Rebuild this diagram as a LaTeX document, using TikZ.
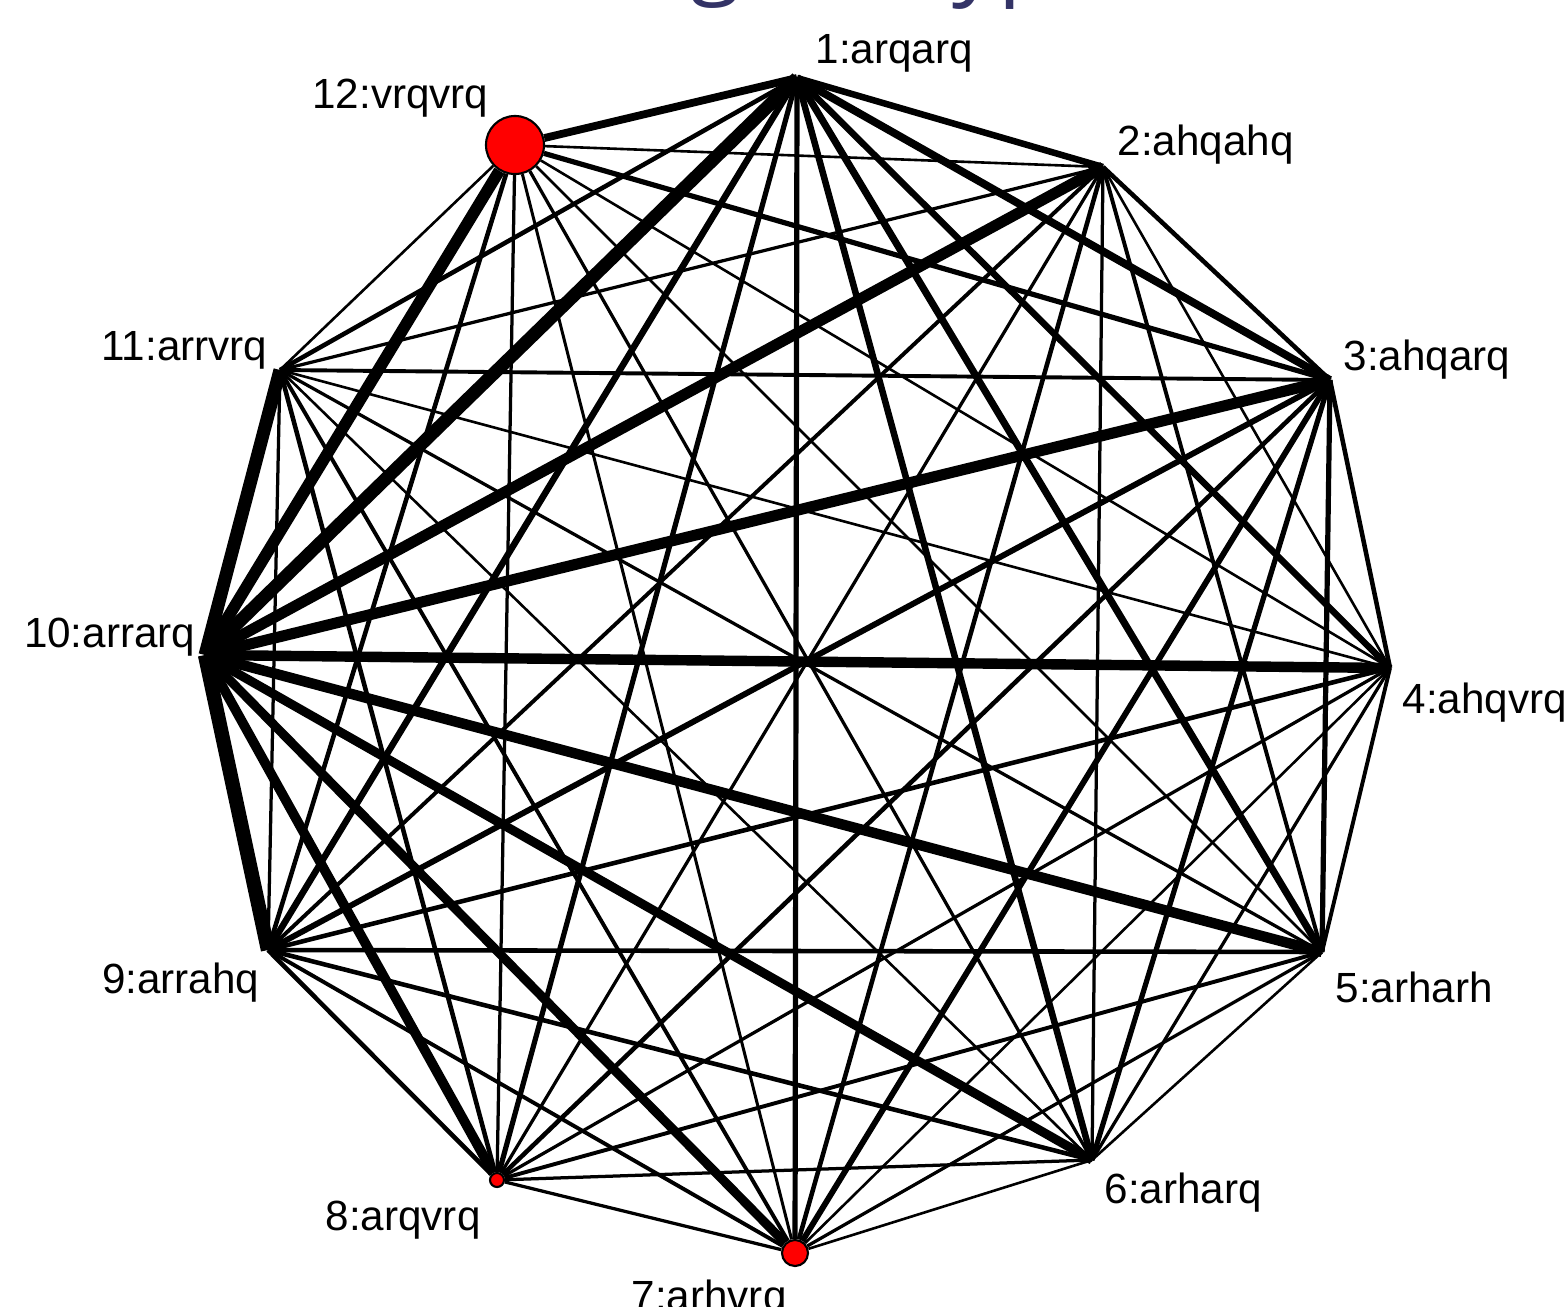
\documentclass[tikz,border=0pt]{standalone}
\usepackage{fontspec}
\setmainfont{Liberation Sans}
\newfontfamily\titlefont{Open Sans}
\definecolor{grNavy}{HTML}{333366}
\definecolor{grRed}{HTML}{FF0000}

\begin{document}
\begin{tikzpicture}[x=0.01cm,y=-0.01cm,
  v/.style={circle,draw=black,line width=0.6pt,fill=grRed,inner sep=0pt},
  ed/.style={line width=#1*0.37pt},
  lb/.style={font=\fontsize{12}{14}\selectfont,inner sep=0pt},
  tt/.style={font=\titlefont\fontsize{26}{30}\selectfont,text=grNavy,inner sep=0pt}]
  \useasboundingbox (0,0) rectangle (1567,1306);
  % cut-off slide title
  \node[tt,anchor=base] (t1) at (716,-13) {g};
  \node[tt,anchor=base west] (t2) at (952,-12) {yp};
  % vertices
  \coordinate (n1) at (797,78);
  \coordinate (n2) at (1103,167);
  \coordinate (n3) at (1330,380);
  \coordinate (n4) at (1390,668);
  \coordinate (n5) at (1322,952);
  \coordinate (n6) at (1092,1160);
  \node[v,minimum size=0.26cm] (n7) at (795,1253) {};
  \node[v,minimum size=0.14cm] (n8) at (497,1180) {};
  \coordinate (n9) at (268,950);
  \coordinate (n10) at (205,655);
  \coordinate (n11) at (280,370);
  \node[v,minimum size=0.58cm] (n12) at (515,145) {};
  % edges, width in px
  \draw[ed=5](n1)--(n2);\draw[ed=6](n1)--(n3);\draw[ed=5](n1)--(n4);\draw[ed=5.5](n1)--(n5);
  \draw[ed=5](n1)--(n6);\draw[ed=4](n1)--(n7);\draw[ed=4](n1)--(n8);\draw[ed=5](n1)--(n9);
  \draw[ed=10](n1)--(n10);\draw[ed=3.5](n1)--(n11);\draw[ed=6](n1)--(n12);
  \draw[ed=3.5](n2)--(n3);\draw[ed=2](n2)--(n4);\draw[ed=3](n2)--(n5);\draw[ed=2.5](n2)--(n6);
  \draw[ed=3.5](n2)--(n7);\draw[ed=2.5](n2)--(n8);\draw[ed=3](n2)--(n9);\draw[ed=8.5](n2)--(n10);
  \draw[ed=2.5](n2)--(n11);\draw[ed=2](n2)--(n12);
  \draw[ed=3.5](n3)--(n4);\draw[ed=4](n3)--(n5);\draw[ed=4](n3)--(n6);\draw[ed=4.5](n3)--(n7);
  \draw[ed=3.5](n3)--(n8);\draw[ed=4.5](n3)--(n9);\draw[ed=8.5](n3)--(n10);\draw[ed=3](n3)--(n11);
  \draw[ed=4](n3)--(n12);
  \draw[ed=3](n4)--(n5);\draw[ed=2.5](n4)--(n6);\draw[ed=2](n4)--(n7);\draw[ed=2.5](n4)--(n8);
  \draw[ed=3.5](n4)--(n9);\draw[ed=8](n4)--(n10);\draw[ed=2](n4)--(n11);\draw[ed=2](n4)--(n12);
  \draw[ed=2](n5)--(n6);\draw[ed=2.5](n5)--(n7);\draw[ed=3](n5)--(n8);\draw[ed=3.5](n5)--(n9);
  \draw[ed=8](n5)--(n10);\draw[ed=2.5](n5)--(n11);\draw[ed=2](n5)--(n12);
  \draw[ed=2](n6)--(n7);\draw[ed=2.5](n6)--(n8);\draw[ed=3.5](n6)--(n9);\draw[ed=7](n6)--(n10);
  \draw[ed=2](n6)--(n11);\draw[ed=2.5](n6)--(n12);
  \draw[ed=2.5](n7)--(n8);\draw[ed=3](n7)--(n9);\draw[ed=7](n7)--(n10);\draw[ed=3](n7)--(n11);
  \draw[ed=2.3](n7)--(n12);
  \draw[ed=3.5](n8)--(n9);\draw[ed=7.5](n8)--(n10);\draw[ed=3.5](n8)--(n11);\draw[ed=2.5](n8)--(n12);
  \draw[ed=11](n9)--(n10);\draw[ed=2.5](n9)--(n11);\draw[ed=3.5](n9)--(n12);
  \draw[ed=10](n10)--(n11);\draw[ed=9](n10)--(n12);
  \draw[ed=2](n11)--(n12);
  % labels
  \node[lb,anchor=base west] (l1) at (815,64) {1:arqarq};
  \node[lb,anchor=base west] (l2) at (1117,155) {2:ahqahq};
  \node[lb,anchor=base west] (l3) at (1343,370) {3:ahqarq};
  \node[lb,anchor=base west] (l4) at (1402,713) {4:ahqvrq};
  \node[lb,anchor=base west] (l5) at (1335,1002) {5:arharh};
  \node[lb,anchor=base west] (l6) at (1104,1203) {6:arharq};
  \node[lb,anchor=base west] (l7) at (631,1310) {7:arhvrq};
  \node[lb,anchor=base west] (l8) at (325,1230) {8:arqvrq};
  \node[lb,anchor=base east] (l9) at (260,993) {9:arrahq};
  \node[lb,anchor=base east] (l10) at (196,647) {10:arrarq};
  \node[lb,anchor=base east] (l11) at (268,360) {11:arrvrq};
  \node[lb,anchor=base east] (l12) at (489,108) {12:vrqvrq};
\end{tikzpicture}
\end{document}
